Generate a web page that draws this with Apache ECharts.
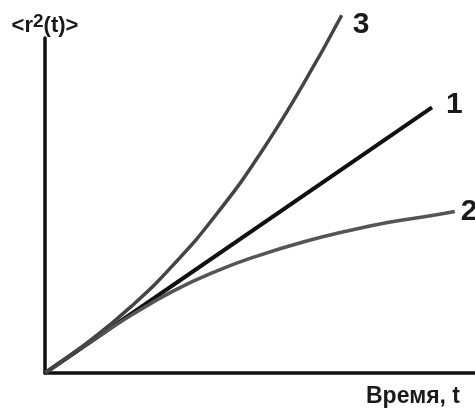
<!DOCTYPE html>
<html>
<head>
<meta charset="utf-8">
<script src="https://cdn.jsdelivr.net/npm/echarts@6/dist/echarts.min.js"></script>
<style>
  html, body { margin: 0; padding: 0; background: #fff; }
  #chart { width: 475px; height: 408px; }
</style>
</head>
<body>
<div id="chart"></div>
<script>
// Mean squared displacement vs time: 1 - normal, 2 - sub-, 3 - super-diffusion
const xMax = 10;
const yMax = 10;

// Curve 1: linear growth
const curve1 = [[0, 0], [9.0, 7.93]];

// Curve 2: slowing growth
const curve2T = [0, 1, 2, 3, 4, 5, 6, 7, 8, 9, 9.53];
const curve2R = [0, 0.89, 1.72, 2.46, 3.05, 3.52, 3.91, 4.23, 4.50, 4.70, 4.82];

// Curve 3: accelerating growth
const curve3T = [0, 1, 2, 3, 4, 5, 6, 6.9];
const curve3R = [0, 0.92, 1.98, 3.25, 4.76, 6.54, 8.61, 10.68];

const pairs = (ts, rs) => ts.map((t, i) => [t, rs[i]]);

const labelFont = 'Liberation Sans, Arial, sans-serif';

function endLabel(text, offset) {
  return {
    show: true,
    formatter: text,
    offset: offset,
    fontFamily: labelFont,
    fontWeight: 'bold',
    fontSize: 30,
    color: '#1a1a1a'
  };
}

const chart = echarts.init(document.getElementById('chart'), null, { renderer: 'canvas' });

chart.setOption({
  animation: false,
  backgroundColor: '#fff',
  grid: { left: 45, right: 0, top: 38, bottom: 32 },
  xAxis: {
    type: 'value',
    min: 0,
    max: xMax,
    axisLine: { lineStyle: { color: '#111', width: 3.5 } },
    axisTick: { show: false },
    axisLabel: { show: false },
    splitLine: { show: false },
    name: 'Время, t',
    nameLocation: 'end',
    nameGap: -15,
    nameTextStyle: {
      fontFamily: labelFont,
      fontWeight: 'bold',
      fontSize: 23,
      color: '#1a1a1a',
      align: 'right',
      verticalAlign: 'top',
      padding: [12, 0, 0, 0]
    }
  },
  yAxis: {
    type: 'value',
    min: 0,
    max: yMax,
    axisLine: { lineStyle: { color: '#111', width: 3.5 } },
    axisTick: { show: false },
    axisLabel: { show: false },
    splitLine: { show: false },
    name: '<r{sup|2}(t)>',
    nameLocation: 'end',
    nameGap: 12,
    nameTextStyle: {
      fontFamily: labelFont,
      fontWeight: 'bold',
      fontSize: 22,
      color: '#1a1a1a',
      align: 'center',
      verticalAlign: 'middle',
      rich: {
        sup: {
          fontFamily: labelFont,
          fontWeight: 'bold',
          fontSize: 19,
          color: '#1a1a1a',
          verticalAlign: 'bottom',
          padding: [0, 0, 9, 0]
        }
      }
    }
  },
  series: [
    {
      name: '1',
      type: 'line',
      data: curve1,
      showSymbol: false,
      clip: false,
      lineStyle: { color: '#111', width: 4 },
      endLabel: endLabel('1', [6, -3])
    },
    {
      name: '2',
      type: 'line',
      data: pairs(curve2T, curve2R),
      smooth: true,
      showSymbol: false,
      clip: false,
      lineStyle: { color: '#555', width: 3.5 },
      endLabel: endLabel('2', [-2, 0])
    },
    {
      name: '3',
      type: 'line',
      data: pairs(curve3T, curve3R),
      smooth: true,
      showSymbol: false,
      clip: false,
      lineStyle: { color: '#444', width: 3.5 },
      endLabel: endLabel('3', [3, 10])
    }
  ]
});
</script>
</body>
</html>
